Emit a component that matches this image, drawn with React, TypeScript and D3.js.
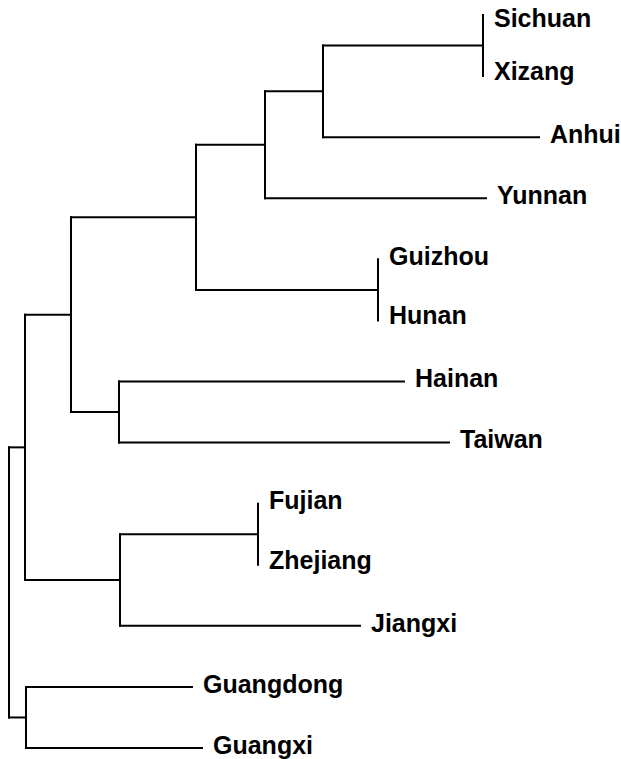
import React from "react";
import * as d3 from "d3";

// Tree edges: node id, parent id, branch length (arbitrary distance units)
const nodeIds = [
  "root", "A", "J", "A1", "H", "B", "G", "C", "F", "D", "Yunnan", "E", "Anhui",
  "Sichuan", "Xizang", "Guizhou", "Hunan", "Hainan", "Taiwan", "I", "Jiangxi",
  "Fujian", "Zhejiang", "Guangdong", "Guangxi",
];
const parentIds = [
  "", "root", "root", "A", "A", "A1", "A1", "B", "B", "C", "C", "D", "D",
  "E", "E", "F", "F", "G", "G", "H", "H",
  "I", "I", "J", "J",
];
const branchLengths = [
  0, 0.16, 0.17, 0.46, 0.95, 1.25, 0.48, 0.69, 1.82, 0.58, 2.21, 1.6, 2.16,
  0, 0, 0, 0, 2.85, 3.3, 1.38, 2.4,
  0, 0, 1.66, 1.76,
];

const W = 621;
const H = 759;

export default function App() {
  const table = nodeIds.map((id, i) => ({ id, parent: parentIds[i] || null, len: branchLengths[i] }));
  const root = d3.stratify<any>().id((d: any) => d.id).parentId((d: any) => d.parent)(table);

  const dist = new Map<any, number>();
  root.each((n: any) => {
    dist.set(n, n.parent ? dist.get(n.parent)! + n.data.len : 0);
  });
  const maxDist = d3.max(root.leaves(), (l: any) => dist.get(l)!) as number;

  const x = d3.scaleLinear().domain([0, maxDist]).range([9, 539]);
  const leaves = root.leaves();
  const y = d3.scalePoint<string>().domain(leaves.map((l: any) => l.id)).range([15, 748]);

  const yPos = new Map<any, number>();
  root.eachAfter((n: any) => {
    if (!n.children) yPos.set(n, y(n.id)!);
    else {
      const c = n.children;
      yPos.set(n, (yPos.get(c[0])! + yPos.get(c[c.length - 1])!) / 2);
    }
  });

  const lines: JSX.Element[] = [];
  root.each((n: any) => {
    const nx = x(dist.get(n)!);
    const ny = yPos.get(n)!;
    if (n.parent) {
      const px = x(dist.get(n.parent)!);
      if (nx - px > 0.01)
        lines.push(<line key={"h" + n.id} x1={px} x2={nx} y1={ny} y2={ny} />);
    }
    if (n.children) {
      const c = n.children;
      lines.push(
        <line key={"v" + n.id} x1={nx} x2={nx} y1={yPos.get(c[0])!} y2={yPos.get(c[c.length - 1])!} />
      );
    }
  });

  const labels = leaves.map((l: any) => {
    const lx = x(dist.get(l)!);
    let ly = yPos.get(l)! - 3;
    if (l.data.len === 0) {
      const py = yPos.get(l.parent)!;
      if (ly > py) ly -= 2;
    }
    ly = Math.max(ly, 18);
    return (
      <text key={"t" + l.id} x={lx + 11} y={ly} dy="0.35em">
        {l.id}
      </text>
    );
  });

  return (
    <svg width={W} height={H} style={{ position: "absolute", left: 0, top: 0, background: "#fff" }}>
      <g stroke="#000" strokeWidth={2} strokeLinecap="square">{lines}</g>
      <g fontFamily="Liberation Sans, Arial, sans-serif" fontWeight="bold" fontSize={25} fill="#000">
        {labels}
      </g>
    </svg>
  );
}
